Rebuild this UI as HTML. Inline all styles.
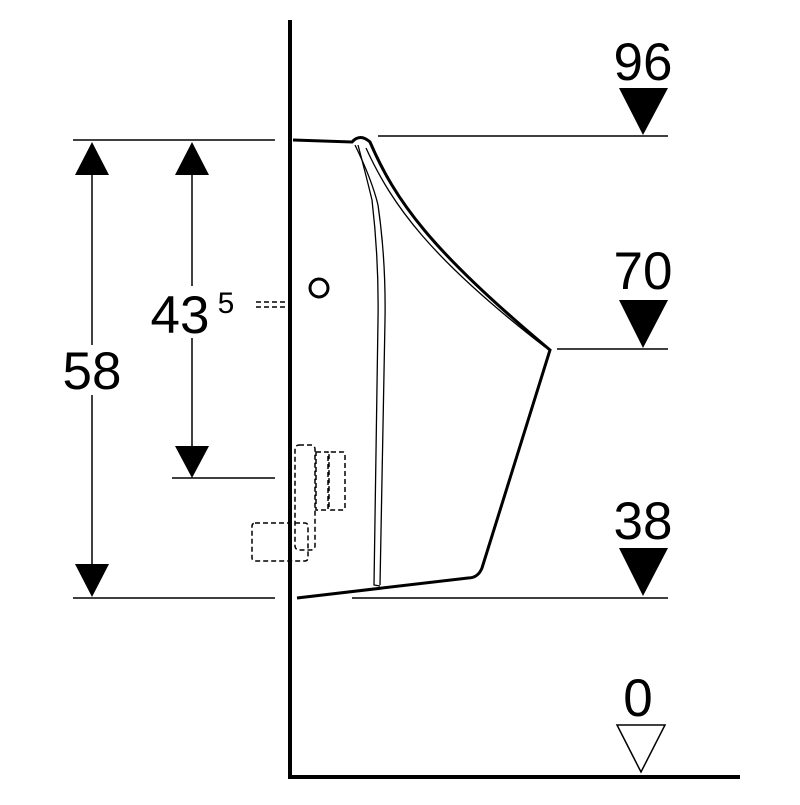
<!DOCTYPE html><html><head><style>body{margin:0;background:#fff}</style></head><body>
<svg width="800" height="800" viewBox="0 0 800 800" xmlns="http://www.w3.org/2000/svg" font-family="Liberation Sans, sans-serif">
<g stroke="#000" fill="none">
<line x1="290" y1="20" x2="290" y2="779" stroke-width="4"/>
<line x1="288" y1="777" x2="740" y2="777" stroke-width="4"/>
<g stroke-width="1.5">
<line x1="73" y1="140" x2="275" y2="140"/>
<line x1="378" y1="136" x2="668" y2="136"/>
<line x1="557" y1="349" x2="668" y2="349"/>
<line x1="172" y1="478" x2="275" y2="478"/>
<line x1="73" y1="598" x2="275" y2="598"/>
<line x1="352" y1="598" x2="668" y2="598"/>
<line x1="92" y1="170" x2="92" y2="570"/>
<line x1="192" y1="170" x2="192" y2="450"/>
</g>
<path d="M293 140 L352 142 Q360 133 370 142 C395 200 430 250 550 350 L482 568 Q478 578 468 578 L297 598" stroke-width="3"/>
<path d="M366 148 C392 205 430 258 545 347" stroke-width="1.3"/>
<path d="M355 145 Q372 180 378 205 Q386 260 385 320 L380 585" stroke-width="1.3"/>
<path d="M358 145 Q366 175 372 200 Q379 260 378 320 L374 585 L380 586" stroke-width="1.3"/>
<circle cx="319" cy="288" r="9" stroke-width="3"/>
<g stroke-width="1.5" stroke-dasharray="5,3">
<line x1="256" y1="302" x2="288" y2="302"/>
<line x1="256" y1="307" x2="288" y2="307"/>
<rect x="295" y="445" width="20" height="105" rx="4"/>
<rect x="316" y="452" width="12" height="58"/>
<rect x="329" y="452" width="16" height="58" rx="2"/>
<rect x="252" y="523" width="56" height="38" rx="3"/>
</g>
<polygon points="617,725 665,725 641,772" stroke-width="1.5"/>
</g>
<rect x="58" y="345" width="70" height="50" fill="#fff"/>
<rect x="146" y="286" width="92" height="52" fill="#fff"/>
<g fill="#000">
<polygon points="92,142 75,175 109,175"/>
<polygon points="92,597 75,564 109,564"/>
<polygon points="192,142 175,175 209,175"/>
<polygon points="192,478 175,446 209,446"/>
<polygon points="619,88 668,88 643,135"/>
<polygon points="619,300 668,300 643,348"/>
<polygon points="619,548 668,548 643,596"/>
</g>
<g font-size="53" text-anchor="middle" fill="#000">
<text x="92" y="389">58</text>
<text x="180" y="333">43</text>
<text x="226" y="313" font-size="30">5</text>
<text x="643" y="80">96</text>
<text x="643" y="289">70</text>
<text x="643" y="539">38</text>
<text x="638" y="716">0</text>
</g>
</svg></body></html>
